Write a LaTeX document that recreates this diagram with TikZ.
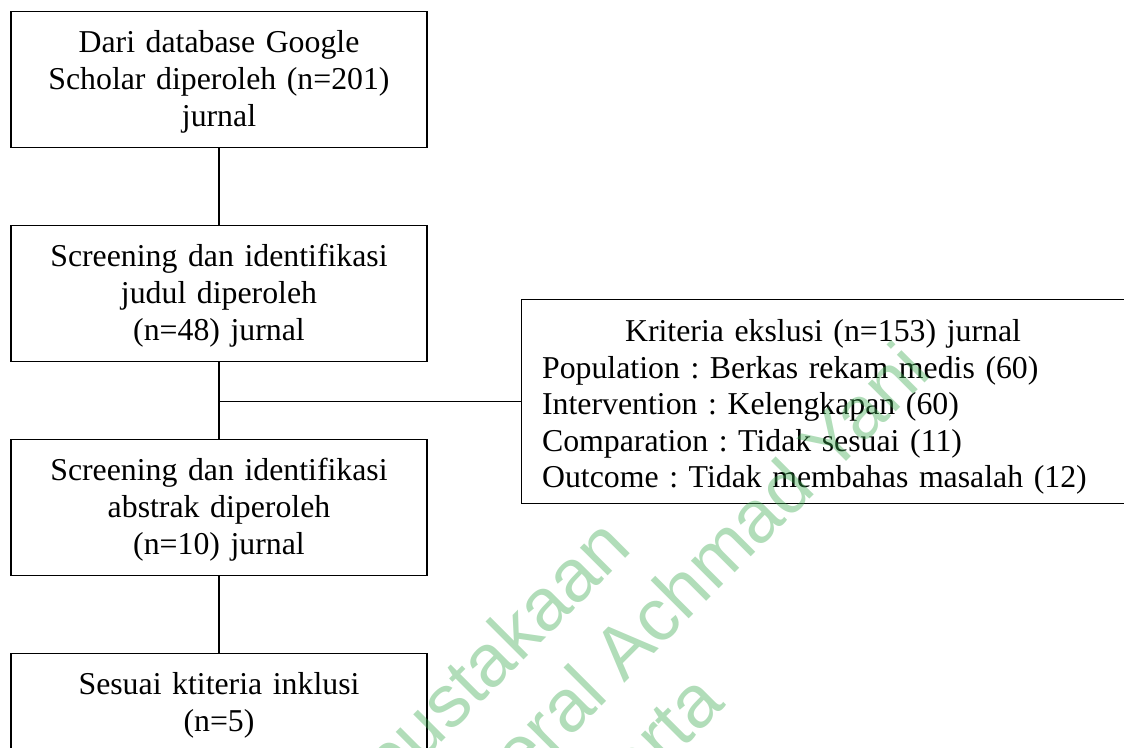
\documentclass[tikz,border=0pt]{standalone}
\usepackage{fontspec}
\setmainfont{Liberation Serif}
\newfontfamily\wmfont{Liberation Sans}
\definecolor{wmgreen}{RGB}{60,170,80}
\frenchspacing
\begin{document}
\begin{tikzpicture}[x=0.37736pt,y=-0.37736pt,
                box/.style={draw,line width=0.45pt,anchor=north,inner xsep=7.2pt,inner ysep=0pt,
                    text width=142.6pt,align=center,font=\fontsize{12pt}{13.8pt}\selectfont,
                    text height=15.6pt,text depth=35.7pt},
                link/.style={line width=0.45pt},
                wmark/.style={rotate=45,anchor=base,text=wmgreen,text opacity=0.4,
                    font=\wmfont\fontsize{28pt}{33pt}\selectfont}]
                \useasboundingbox (0,0) rectangle (1124,747);
                \clip (0,0) rectangle (1124,747);
                \node[box] (db) at (219,11) {Dari database Google\\ Scholar diperoleh (n=201)\\ jurnal};
                \node[box] (judul) at (219,225) {Screening dan identifikasi\\ judul diperoleh\\ (n=48) jurnal};
                \node[box] (abstrak) at (219,439) {Screening dan identifikasi\\ abstrak diperoleh\\ (n=10) jurnal};
                \node[box] (inklusi) at (219,653) {Sesuai ktiteria inklusi\\ (n=5)};
                \node[box,align=left,text width=212pt,inner xsep=7.9pt,text height=15.8pt,text depth=61.2pt]
                    (eksklusi) at (823,299) {\makebox[\linewidth][c]{Kriteria ekslusi (n=153) jurnal}\\
                    Population : Berkas rekam medis (60)\\
                    Intervention : Kelengkapan (60)\\
                    Comparation : Tidak sesuai (11)\\
                    Outcome : Tidak membahas masalah (12)};
                \draw[link] (db.south) -- (judul.north);
                \draw[link] (judul.south) -- (abstrak.north);
                \draw[link] (abstrak.south) -- (inklusi.north);
                \draw[link] (eksklusi.west) -- (eksklusi.west -| judul.south);
                % watermark
                \node[wmark] (wm1) at (472,712) {Perpustakaan};
                \node[wmark] (wm2) at (534,774) {Universitas Jenderal Achmad Yani};
                \node[wmark] (wm3) at (596,836) {Yogyakarta};
            \end{tikzpicture}
\end{document}
